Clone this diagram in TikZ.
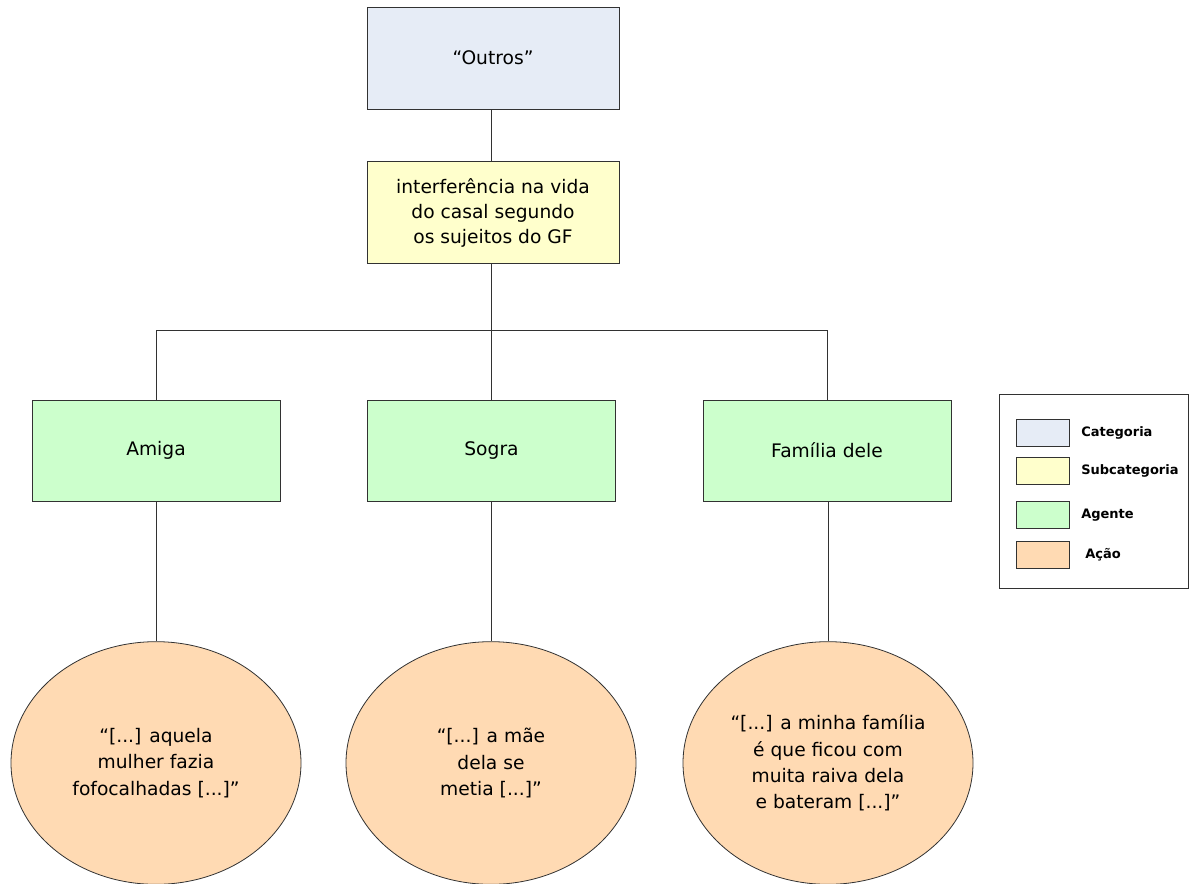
\documentclass[tikz,border=0pt]{standalone}
\usepackage{fontspec}
\setmainfont{DejaVu Sans}
\usetikzlibrary{shapes.geometric}
\definecolor{CatBlue}{RGB}{230,236,246}
\definecolor{SubYellow}{RGB}{255,255,204}
\definecolor{AgentGreen}{RGB}{204,255,204}
\definecolor{ActionPeach}{RGB}{255,218,179}
\definecolor{LineGray}{RGB}{50,50,50}

\begin{document}
\begin{tikzpicture}[x=0.75pt,y=-0.75pt,
    box/.style={draw=LineGray, line width=0.6pt, align=center, inner sep=0pt,
        minimum width=189pt, minimum height=76.5pt,
        font=\fontsize{14}{18.75}\selectfont},
    agentbox/.style={box, fill=AgentGreen, minimum width=186pt, minimum height=75.75pt},
    actionblob/.style={ellipse, draw=LineGray, line width=0.6pt, fill=ActionPeach,
        align=center, inner sep=0pt, minimum width=217.5pt, minimum height=182pt,
        font=\fontsize{14}{19.75}\selectfont},
    swatch/.style={draw=LineGray, line width=0.6pt, minimum width=39.75pt,
        minimum height=20.25pt, inner sep=0pt},
    legendtext/.style={anchor=west, inner sep=0pt, font=\fontsize{9.75}{12}\selectfont\bfseries},
    link/.style={draw=LineGray, line width=0.6pt}]
    % Page size of the reference
    \useasboundingbox (0,0) rectangle (1189,883);
    \clip (0,0) rectangle (1189,883);

    % Category and subcategory
    \node[box, fill=CatBlue] (outros) at (493,58) {“Outros”};
    \node[box, fill=SubYellow] (subcat) at (493,212.5)
        {interferência na vida\\do casal segundo\\os sujeitos do GF};

    % Agents
    \node[agentbox] (amiga) at (156,450.5) {Amiga};
    \node[agentbox] (sogra) at (491.5,450.5) {Sogra};
    \node[agentbox] (familia) at (827,450.5) {Família dele};

    % Actions (cut at the bottom edge)
    \node[actionblob] (acaoamiga) at (156,763)
        {“[...] aquela\\mulher fazia\\fofocalhadas [...]”};
    \node[actionblob] (acaosogra) at (491,763)
        {“[...] a mãe\\dela se\\metia [...]”};
    \node[actionblob] (acaofamilia) at (828,763)
        {“[...] a minha família\\é que ficou com\\muita raiva dela\\e bateram [...]”};

    % Connectors
    \coordinate (bus) at (491,330);
    \draw[link] (outros.south -| bus) -- (subcat.north -| bus);
    \draw[link] (subcat.south -| bus) -- (bus);
    \draw[link] (amiga.north) -- (amiga.north |- bus) -- (familia.north |- bus) -- (familia.north);
    \draw[link] (bus) -- (sogra.north -| bus);
    \draw[link] (amiga.south) -- (acaoamiga.north);
    \draw[link] (sogra.south -| acaosogra.north) -- (acaosogra.north);
    \draw[link] (familia.south -| acaofamilia.north) -- (acaofamilia.north);

    % Legend
    \node[draw=LineGray, line width=0.6pt, minimum width=141.75pt, minimum height=145.5pt,
        inner sep=0pt] (legend) at (1093.5,491) {};
    \foreach \name/\col/\yy/\xx/\lbl in {cat/CatBlue/432.5/1081/Categoria,
            sub/SubYellow/470.5/1081/Subcategoria,
            agt/AgentGreen/515/1081/Agente,
            act/ActionPeach/554.5/1085/Ação} {
        \node[swatch, fill=\col] (sw\name) at (1042.5,\yy) {};
        \node[legendtext] (lb\name) at (\xx,\yy) {\lbl};
    }
\end{tikzpicture}
\end{document}
